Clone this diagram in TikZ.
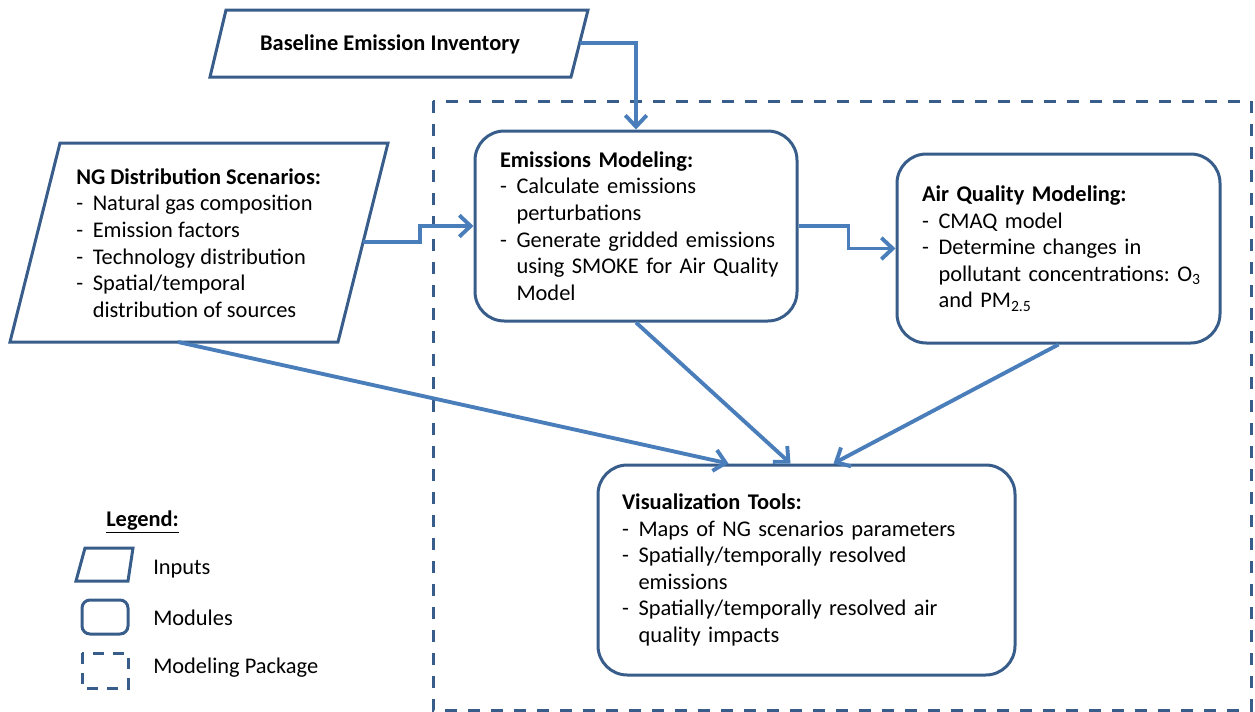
\documentclass[tikz,border=0pt]{standalone}
\usepackage{fontspec}
\setmainfont{Carlito}
\usetikzlibrary{arrows.meta,calc}
\definecolor{boxblue}{HTML}{385D8A}
\definecolor{arrowblue}{HTML}{4A7EBB}
\newcommand{\bitem}[1]{\mbox{\makebox[12.4pt][l]{-}#1}}
\newcommand{\bcont}[1]{\mbox{\hspace*{12.4pt}#1}}
\frenchspacing

\begin{document}
\begin{tikzpicture}[x=0.75pt,y=-0.75pt,
    font=\fontsize{16.8}{19.9}\selectfont,
    outline/.style={draw=boxblue,line width=2.25pt,line join=miter},
    module/.style={outline,rounded corners=22pt,align=left,inner ysep=0pt},
    pkgline/.style={draw=boxblue,line width=2.25pt,dash pattern=on 9pt off 8.25pt},
    flow/.style={draw=arrowblue,line width=2.9pt,line join=miter,
      -{Straight Barb[length=8.5pt,width=16pt]}},
    txt/.style={inner sep=0pt,align=left}]
  \useasboundingbox (0,0) rectangle (1255,711);

  % modeling package
  \draw[pkgline] (433,101) rectangle (1251,710);

  % inputs
  \draw[outline] (226,10) -- (588,10) -- (571,77) -- (210,77) -- cycle;
  \node[txt,font=\fontsize{16.8}{19.9}\selectfont\bfseries] (bei) at (390,44) {Baseline Emission Inventory};
  \coordinate (beiout) at (580,43);

  \draw[outline] (60,143) -- (388,143) -- (338,342) -- (10,342) -- cycle;
  \node[txt,anchor=west] (ngs) at (76,243) {\textbf{NG Distribution Scenarios:}\\
    \bitem{Natural gas composition}\\
    \bitem{Emission factors}\\
    \bitem{Technology distribution}\\
    \bitem{Spatial/temporal}\\
    \bcont{distribution of sources}};
  \coordinate (ngout) at (363,242);
  \coordinate (ngdown) at (178,342);

  % modules
  \node[module,minimum width=241.5pt,minimum height=142.5pt,
    inner xsep=18.75pt,text width=204pt] (em) at (636,226) {\textbf{Emissions Modeling:}\\
    \bitem{Calculate emissions}\\
    \bcont{perturbations}\\
    \bitem{Generate gridded emissions}\\
    \bcont{using SMOKE for Air Quality}\\
    \bcont{Model}};

  \node[module,minimum width=242.25pt,minimum height=141.75pt,
    inner xsep=18.75pt,text width=204.75pt] (aq) at (1058.5,248.5) {\textbf{Air Quality Modeling:}\\
    \bitem{CMAQ model}\\
    \bitem{Determine changes in}\\
    \bcont{pollutant concentrations: O\textsubscript{3}}\\
    \bcont{and PM\textsubscript{2.5}}};

  \node[module,minimum width=312.75pt,minimum height=157.5pt,
    inner xsep=18pt,text width=276.75pt] (vis) at (806.5,570) {\textbf{Visualization Tools:}\\
    \bitem{Maps of NG scenarios parameters}\\
    \bitem{Spatially/temporally resolved}\\
    \bcont{emissions}\\
    \bitem{Spatially/temporally resolved air}\\
    \bcont{quality impacts}};

  % connectors
  \draw[flow] (beiout) -| (em.north);
  \draw[flow] (ngout) -- ++(57,0) |- (em.west);
  \draw[flow] (em.east) -- ++(50,0) |- (aq.west);
  \draw[flow] (ngdown) -- ($(vis.north)+(-78,0)$);
  \draw[flow] (em.south) -- ($(vis.north)+(-16,0)$);
  \draw[flow] (aq.south) -- ($(vis.north)+(27,0)$);

  % legend
  \node[txt,anchor=west] (leg) at (106,522) {\textbf{\underline{Legend:}}};
  \draw[outline] (85,548) -- (133,548) -- (128,581) -- (76,581) -- cycle;
  \draw[outline,rounded corners=6pt] (82,600) rectangle (128,634);
  \draw[pkgline,dash pattern=on 8pt off 7pt] (82,653) rectangle (128,688);
  \node[txt,anchor=west] (legin) at (153,569) {Inputs};
  \node[txt,anchor=west] (legmod) at (153,618) {Modules};
  \node[txt,anchor=west] (legpkg) at (153,668) {Modeling Package};
\end{tikzpicture}
\end{document}
